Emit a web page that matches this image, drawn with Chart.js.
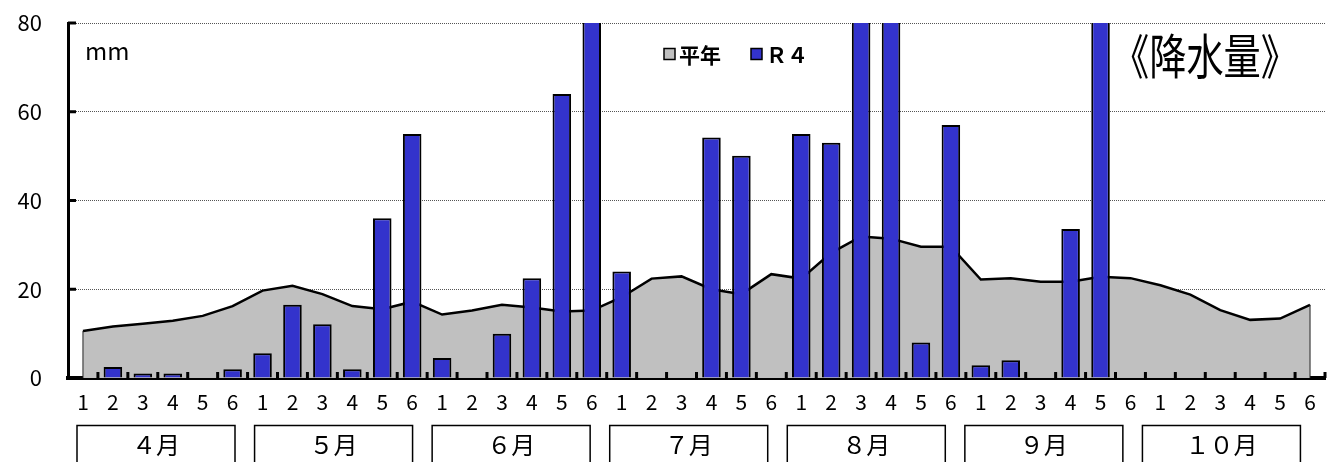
<!DOCTYPE html>
<html>
<head>
<meta charset="utf-8">
<script src="https://cdn.jsdelivr.net/npm/chart.js@4"></script>
<style>
  html, body { margin: 0; padding: 0; background: #fff; }
  #wrap { width: 1333px; height: 462px; }
</style>
</head>
<body>
<div id="wrap"><canvas id="rain" width="1333" height="462"></canvas></div>
<script>
// 半旬ごとの降水量 (mm) - 4月〜10月
const categories = [
  "1","2","3","4","5","6",
  "1","2","3","4","5","6",
  "1","2","3","4","5","6",
  "1","2","3","4","5","6",
  "1","2","3","4","5","6",
  "1","2","3","4","5","6",
  "1","2","3","4","5","6"
];
const months = ["４月", "５月", "６月", "７月", "８月", "９月", "１０月"];

// 平年 (gray area)
const normalValues = [
  10.6, 11.6, 12.2, 12.9, 14.0, 16.2,
  19.7, 20.8, 18.9, 16.2, 15.5, 17.2,
  14.3, 15.2, 16.5, 15.9, 15.0, 15.2,
  18.2, 22.4, 22.9, 20.0, 18.9, 23.4,
  22.4, 28.2, 31.9, 31.4, 29.6, 29.6,
  22.2, 22.5, 21.7, 21.7, 22.8, 22.5,
  20.9, 18.8, 15.3, 13.1, 13.4, 16.5
];
// R4 (blue bars) - values above 80 run off the top of the chart
const r4Values = [
  0, 2.5, 1, 1, 0, 2,
  5.6, 16.5, 12.1, 2, 36, 55,
  4.5, 0, 10, 22.5, 64, 95,
  24, 0, 0, 54.2, 50.1, 0,
  55, 53, 120, 105, 8, 57,
  2.9, 4, 0, 33.6, 90, 0,
  0, 0, 0, 0, 0, 0
];
const yTicks = [0, 20, 40, 60, 80];

const JP = '"Noto Sans CJK JP", "Liberation Sans", sans-serif';

// ----- extras: inner tick marks, area edges, legend, labels, month boxes -----
const extras = {
  id: "extras",
  afterDatasetsDraw(chart) {
    const ctx = chart.ctx;
    const area = chart.chartArea;
    ctx.save();
    // closing edges of the 平年 area
    const pts = chart.getDatasetMeta(0).data;
    ctx.strokeStyle = "#222";
    ctx.lineWidth = 1;
    for (const p of [pts[0], pts[pts.length - 1]]) {
      ctx.beginPath(); ctx.moveTo(p.x, p.y); ctx.lineTo(p.x, area.bottom); ctx.stroke();
    }
    ctx.restore();
  },
  afterDraw(chart) {
    const ctx = chart.ctx;
    const x = chart.scales.x, y = chart.scales.y;
    const area = chart.chartArea;
    const catW = x.getPixelForValue(1) - x.getPixelForValue(0);
    ctx.save();
    ctx.strokeStyle = "#000";
    ctx.lineWidth = 3;
    // y ticks pointing inward
    for (const v of yTicks) {
      const py = y.getPixelForValue(v);
      ctx.beginPath(); ctx.moveTo(area.left, py); ctx.lineTo(area.left + 8, py); ctx.stroke();
    }
    // x ticks at category boundaries, pointing up
    for (let i = 0; i < categories.length; i++) {
      const px = x.getPixelForValue(i) + catW / 2;
      ctx.beginPath(); ctx.moveTo(px, area.bottom); ctx.lineTo(px, area.bottom - 6); ctx.stroke();
    }

    // unit label
    ctx.fillStyle = "#000";
    ctx.textBaseline = "middle";
    ctx.textAlign = "left";
    ctx.font = "24px " + JP;
    ctx.fillText("mm", area.left + 17, 51);

    // legend
    const legY = 54;
    const leg = [
      { label: "平年", color: "#c0c0c0", x: 664 },
      { label: "Ｒ４", color: "#3333cc", x: 751 }
    ];
    ctx.font = "bold 21px " + JP;
    for (const l of leg) {
      ctx.fillStyle = l.color;
      ctx.fillRect(l.x, legY - 5.5, 11, 11);
      ctx.lineWidth = 1.5;
      ctx.strokeStyle = "#000";
      ctx.strokeRect(l.x, legY - 5.5, 11, 11);
      ctx.fillStyle = "#000";
      ctx.fillText(l.label, l.x + 15, legY + 1);
    }

    // title
    ctx.font = "48px " + JP;
    ctx.fillText("《降水量》", 1112, 56, 186);

    // month boxes
    ctx.lineWidth = 1.5;
    ctx.strokeStyle = "#000";
    ctx.font = "24px " + JP;
    ctx.textAlign = "center";
    const pitch = catW * 6 - 2;
    months.forEach((m, i) => {
      const left = area.left + 9 + i * pitch;
      const w = 158;
      ctx.beginPath();
      ctx.moveTo(left, 470); ctx.lineTo(left, 425.5); ctx.lineTo(left + w, 425.5); ctx.lineTo(left + w, 470);
      ctx.stroke();
      ctx.fillText(m, left + w / 2, 445);
    });
    ctx.restore();
  }
};

new Chart(document.getElementById("rain"), {
  type: "bar",
  data: {
    labels: categories,
    datasets: [
      {
        type: "line",
        label: "平年",
        data: normalValues,
        borderColor: "#000",
        borderWidth: 2.5,
        backgroundColor: "#c0c0c0",
        fill: "origin",
        pointRadius: 0,
        tension: 0,
        order: 2
      },
      {
        type: "bar",
        label: "R4",
        data: r4Values,
        backgroundColor: "#3333cc",
        borderColor: "#000",
        borderWidth: (c) => (c.raw > 0 ? 2 : 0),
        barPercentage: 0.62,
        categoryPercentage: 1,
        clip: 0,
        order: 1
      }
    ]
  },
  options: {
    responsive: false,
    animation: false,
    layout: { padding: { top: 0, right: 8, left: 0, bottom: 0 } },
    plugins: { legend: { display: false }, tooltip: { enabled: false } },
    scales: {
      x: {
        offset: true,
        grid: { display: false, drawTicks: false },
        border: { display: true, color: "#000", width: 4 },
        ticks: { color: "#000", font: { family: JP, size: 21 }, padding: 11, maxRotation: 0, autoSkip: false },
        afterFit: (s) => { s.height = 84; }
      },
      y: {
        min: 0,
        max: 80,
        grid: { color: "#555", lineWidth: 1, drawTicks: false },
        border: { display: true, color: "#000", width: 3, dash: [1, 1] },
        ticks: { stepSize: 20, color: "#000", font: { family: JP, size: 22 }, padding: 26 },
        afterFit: (s) => { s.width = 68; s.paddingTop = 23; s.paddingBottom = 0; }
      }
    }
  },
  plugins: [extras]
});
</script>
</body>
</html>
